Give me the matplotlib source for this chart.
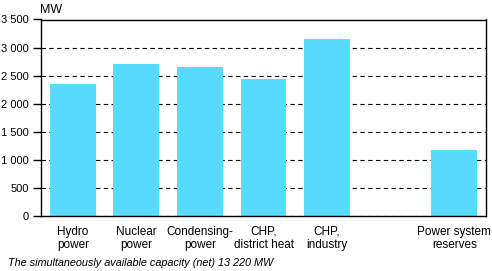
import matplotlib
matplotlib.use("Agg")
import matplotlib.pyplot as plt

plt.rcParams['font.family'] = ['Liberation Sans', 'DejaVu Sans']

categories = ["Hydro\npower", "Nuclear\npower", "Condensing-\npower",
              "CHP,\ndistrict heat", "CHP,\nindustry", "", "Power system\nreserves"]
capacity = [2350, 2700, 2650, 2440, 3150, 0, 1180]
yticks = [0, 500, 1000, 1500, 2000, 2500, 3000, 3500]
ytick_labels = ["0", "500", "1 000", "1 500", "2 000", "2 500", "3 000", "3 500"]

fig = plt.figure(figsize=(4.92, 2.71), dpi=100)
ax = fig.add_axes([41/492, 1 - 216/271, 445/492, 196.5/271])

pos = list(range(len(categories)))
ax.bar(pos, capacity, width=0.72, color='#57dcff', zorder=2)

ax.set_xlim(-0.5, 6.5)
ax.set_ylim(0, 3500)
ax.set_yticks(yticks)
ax.set_yticklabels(ytick_labels, fontsize=8)
ax.set_xticks(pos)
ax.set_xticklabels(categories, fontsize=8.5, linespacing=1.1)
ax.tick_params(axis='x', length=0, pad=7)
ax.tick_params(axis='y', length=5.5, width=1, pad=3)
ax.yaxis.grid(True, color='black', linestyle=(0, (4, 3)), linewidth=0.8, zorder=1)
ax.set_axisbelow(True)
for sp in ax.spines.values():
    sp.set_linewidth(1)

fig.text(40/492, 1 - 10/271, "MW", fontsize=9, va='center', ha='left')
fig.text(8/492, 1 - 263/271, "The simultaneously available capacity (net) 13 220 MW",
         fontsize=7.8, style='italic', va='center', ha='left')

fig.savefig("out.png", dpi=100)
